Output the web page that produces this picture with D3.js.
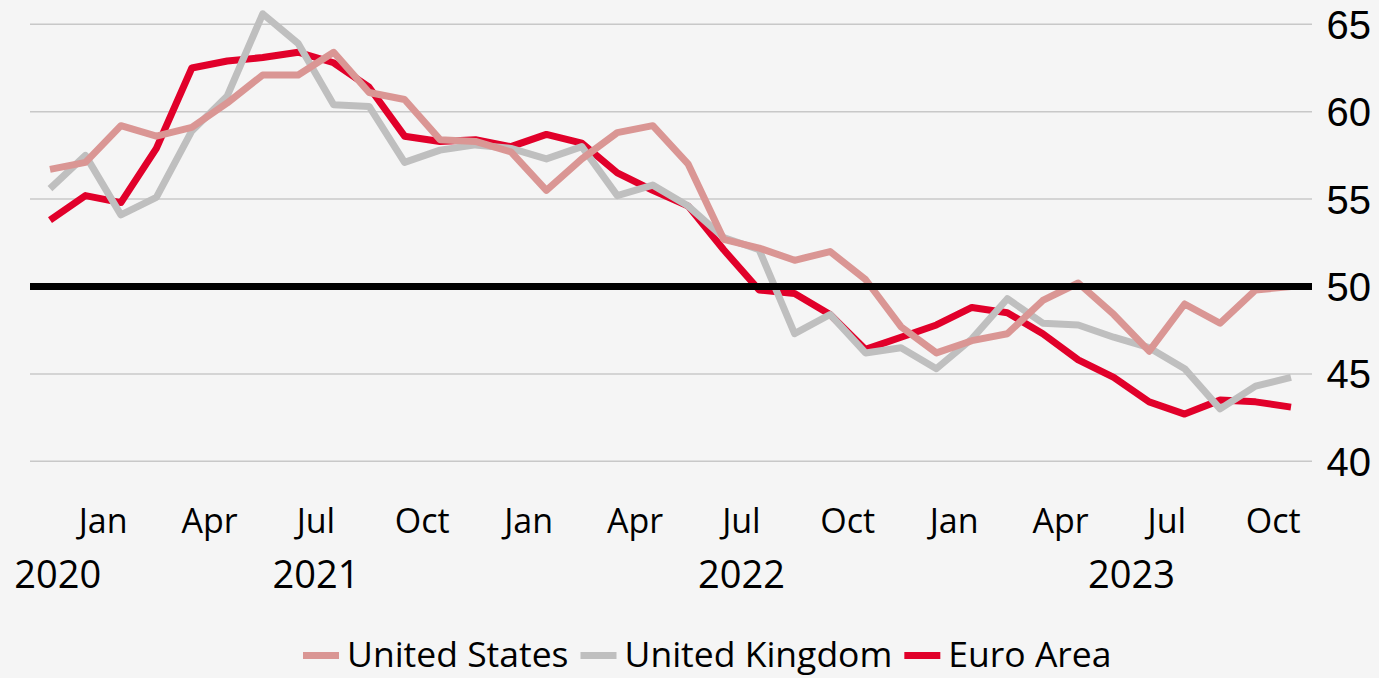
<!DOCTYPE html>
<html lang="en">
<head>
<meta charset="utf-8">
<title>Manufacturing PMI</title>
<script src="https://cdn.jsdelivr.net/npm/d3@7"></script>
<style>
  html, body { margin: 0; padding: 0; background: #f5f5f5; }
  svg { display: block; }
  text { font-family: "Open Sans", "Noto Sans", sans-serif; fill: #000; }
  text.ylab { font-family: "Liberation Sans", Arial, sans-serif; }
</style>
</head>
<body>
<script>
var width = 1379;
var height = 678;

// months, Nov 2020 .. Oct 2023
var months = ["2020-11","2020-12",
  "2021-01","2021-02","2021-03","2021-04","2021-05","2021-06","2021-07","2021-08","2021-09","2021-10","2021-11","2021-12",
  "2022-01","2022-02","2022-03","2022-04","2022-05","2022-06","2022-07","2022-08","2022-09","2022-10","2022-11","2022-12",
  "2023-01","2023-02","2023-03","2023-04","2023-05","2023-06","2023-07","2023-08","2023-09","2023-10"];

var unitedStates = [56.7, 57.1,
  59.2, 58.6, 59.1, 60.5, 62.1, 62.1, 63.4, 61.1, 60.7, 58.4, 58.3, 57.7,
  55.5, 57.3, 58.8, 59.2, 57.0, 52.7, 52.2, 51.5, 52.0, 50.4, 47.7, 46.2,
  46.9, 47.3, 49.2, 50.2, 48.4, 46.3, 49.0, 47.9, 49.8, 50.0];

var unitedKingdom = [55.6, 57.5,
  54.1, 55.1, 58.9, 60.9, 65.6, 63.9, 60.4, 60.3, 57.1, 57.8, 58.1, 57.9,
  57.3, 58.0, 55.2, 55.8, 54.6, 52.8, 52.1, 47.3, 48.4, 46.2, 46.5, 45.3,
  47.0, 49.3, 47.9, 47.8, 47.1, 46.5, 45.3, 43.0, 44.3, 44.8];

var euroArea = [53.8, 55.2,
  54.8, 57.9, 62.5, 62.9, 63.1, 63.4, 62.8, 61.4, 58.6, 58.3, 58.4, 58.0,
  58.7, 58.2, 56.5, 55.5, 54.6, 52.1, 49.8, 49.6, 48.4, 46.4, 47.1, 47.8,
  48.8, 48.5, 47.3, 45.8, 44.8, 43.4, 42.7, 43.5, 43.4, 43.1];

var seriesNames = ["United States", "United Kingdom", "Euro Area"];
var seriesColors = ["#da9694", "#bfbfbf", "#e1002a"];
var seriesValues = [unitedStates, unitedKingdom, euroArea];

var yTicks = [40, 45, 50, 55, 60, 65];
var monthNames = {"01": "Jan", "04": "Apr", "07": "Jul", "10": "Oct"};

var plotLeft = 30, plotRight = 1312;

var x = d3.scaleLinear().domain([0, months.length - 1]).range([50, 1291]);
var y = d3.scaleLinear().domain([40, 65]).range([461.3, 24.3]);

var svg = d3.select("body").append("svg")
            .attr("width", width)
            .attr("height", height);

svg.append("rect").attr("width", width).attr("height", height).attr("fill", "#f5f5f5");

// gridlines
svg.append("g").selectAll("line")
   .data(yTicks.filter(function(d) { return d !== 50; }))
   .enter().append("line")
   .attr("x1", plotLeft).attr("x2", plotRight)
   .attr("y1", function(d) { return y(d); })
   .attr("y2", function(d) { return y(d); })
   .attr("stroke", "#c8c8c8")
   .attr("stroke-width", 1.5);

// y labels on the right
svg.append("g").selectAll("text")
   .data(yTicks)
   .enter().append("text")
   .attr("class", "ylab")
   .attr("x", 1371)
   .attr("y", function(d) { return y(d) + 14.5; })
   .attr("text-anchor", "end")
   .attr("font-size", 40)
   .text(function(d) { return d; });

// lines, euro area drawn first so US ends on top
var line = d3.line()
             .x(function(d, i) { return x(i); })
             .y(function(d) { return y(d); });

[2, 1, 0].forEach(function(k) {
  svg.append("path")
     .datum(seriesValues[k])
     .attr("d", line)
     .attr("fill", "none")
     .attr("stroke", seriesColors[k])
     .attr("stroke-width", 7)
     .attr("stroke-linejoin", "round");
});

// 50 line
svg.append("line")
   .attr("x1", plotLeft).attr("x2", plotRight)
   .attr("y1", y(50)).attr("y2", y(50))
   .attr("stroke", "#000")
   .attr("stroke-width", 7);

// month labels, half a step left of the point
svg.append("g").selectAll("text")
   .data(months.map(function(m, i) { return {m: m, i: i}; })
               .filter(function(d) { return monthNames[d.m.slice(5)]; }))
   .enter().append("text")
   .attr("x", function(d) { return x(d.i - 0.5); })
   .attr("y", 533)
   .attr("text-anchor", "middle")
   .attr("font-size", 34)
   .text(function(d) { return monthNames[d.m.slice(5)]; });

// year labels centered on each year's months
var years = d3.groups(months.map(function(m, i) { return {yr: m.slice(0, 4), i: i}; }), function(d) { return d.yr; });
svg.append("g").selectAll("text")
   .data(years)
   .enter().append("text")
   .attr("x", function(d) {
     var first = d[1][0].i, last = d[1][d[1].length - 1].i;
     if (first === 0) return (plotLeft + x(last)) / 2;
     return (x(first) + x(last)) / 2;
   })
   .attr("y", 588)
   .attr("text-anchor", "middle")
   .attr("font-size", 38)
   .text(function(d) { return d[0]; });

// legend
var legend = svg.append("g");
var lx = 303;
seriesNames.forEach(function(name, k) {
  legend.append("line")
        .attr("x1", lx).attr("x2", lx + 36)
        .attr("y1", 655.5).attr("y2", 655.5)
        .attr("stroke", seriesColors[k])
        .attr("stroke-width", 7);
  var t = legend.append("text")
                .attr("x", lx + 44)
                .attr("y", 667)
                .attr("font-size", 35.5)
                .text(name);
  lx += 44 + t.node().getComputedTextLength() + 12;
});
</script>
</body>
</html>
